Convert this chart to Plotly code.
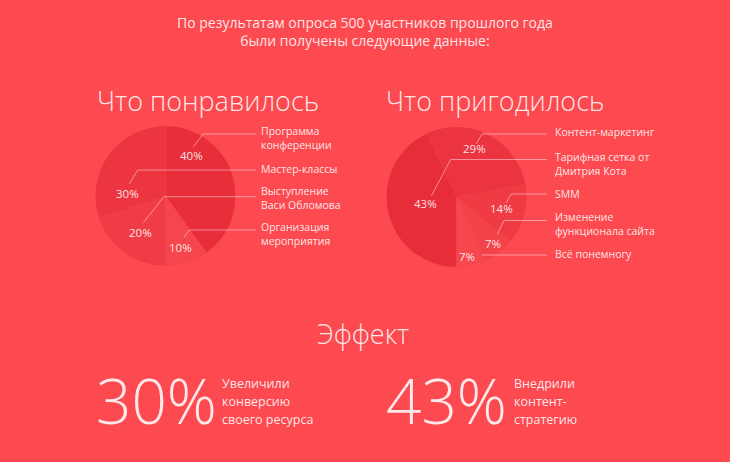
import plotly.graph_objects as go

# ---------------- data ----------------
header_lines = ["По результатам опроса 500 участников прошлого года",
                "были получены следующие данные:"]

liked_title = "Что понравилось"
liked_labels = ["Программа\nконференции", "Мастер-классы",
                "Выступление\nВаси Обломова", "Организация\nмероприятия"]
liked_values = [40, 30, 20, 10]

useful_title = "Что пригодилось"
useful_labels = ["Контент-маркетинг", "Тарифная сетка от\nДмитрия Кота", "SMM",
                 "Изменение\nфункционала сайта", "Всё понемногу"]
useful_values = [29, 43, 14, 7, 7]
useful_slice_order = [1, 0, 2, 3, 4]   # drawing order clockwise from 6 o'clock

effect_title = "Эффект"
effect_values = [30, 43]
effect_texts = ["Увеличили\nконверсию\nсвоего ресурса", "Внедрили\nконтент-\nстратегию"]

# ---------------- styles ----------------
W, H = 730, 462
BG = "#FD4A50"
FONT = "Open Sans"
TXT = "rgba(255,255,255,0.88)"
LINE = "rgba(255,255,255,0.45)"
liked_colors = ["#E82E3A", "#EC3540", "#F03C46", "#F6454D"]
useful_colors = ["#EC3440", "#E72D39", "#F03B45", "#F3424A", "#F7474E"]


def px(x):
    return x / W


def py(y):
    return 1 - y / H


def dom(cx, cy, r):
    return dict(x=[px(cx - r), px(cx + r)], y=[py(cy + r), py(cy - r)])


fig = go.Figure()

fig.add_trace(go.Pie(
    values=liked_values, labels=[l.replace("\n", " ") for l in liked_labels],
    marker=dict(colors=liked_colors, line=dict(width=0)),
    sort=False, direction="counterclockwise", rotation=0,
    textinfo="none", hoverinfo="label+percent", showlegend=False,
    domain=dom(165.5, 196, 70)))

fig.add_trace(go.Pie(
    values=[useful_values[i] for i in useful_slice_order],
    labels=[useful_labels[i].replace("\n", " ") for i in useful_slice_order],
    marker=dict(colors=[useful_colors[i] for i in useful_slice_order], line=dict(width=0)),
    sort=False, direction="clockwise", rotation=180,
    textinfo="none", hoverinfo="label+percent", showlegend=False,
    domain=dom(456.5, 197, 70)))

ann = []
shapes = []


def text(x, y, s, size, anchor="left", weight=400, color=TXT):
    ann.append(dict(x=px(x), y=py(y), xref="paper", yref="paper",
                    text=s.replace("\n", "<br>"), align=anchor,
                    showarrow=False, xanchor=anchor, yanchor="middle",
                    font=dict(family=FONT, size=size, color=color, weight=weight)))


def lines(x, y0, s, size, step, anchor="left", weight=400):
    for k, part in enumerate(s.split("\n")):
        text(x, y0 + k * step, part, size, anchor, weight)


def leader(pts):
    path = "M " + " L ".join(f"{px(a)},{py(b)}" for a, b in pts)
    shapes.append(dict(type="path", xref="paper", yref="paper", path=path,
                       line=dict(color=LINE, width=1)))


# header
text(365, 31, "\n".join(header_lines), 14, anchor="center")

# titles
text(95, 100, liked_title, 27, weight=300)
text(384, 100, useful_title, 27, weight=300)

# left pie: percent labels, leader lines, legend text (block centres)
liked_pct_pos = [(191.7, 155), (127.3, 193.3), (140.7, 232.3), (180.7, 247)]
liked_leaders = [[(193.3, 146.7), (203.3, 134), (255.7, 134)],
                 [(129.3, 184), (137.7, 170), (255.7, 170)],
                 [(143.3, 222.7), (164, 196.7), (255.7, 196.7)],
                 [(184, 237.3), (189.3, 230), (255.7, 230)]]
liked_text_y = [137.5, 169.3, 198.5, 233.5]
for v, (x, y), ld, ty, lab in zip(liked_values, liked_pct_pos, liked_leaders,
                                  liked_text_y, liked_labels):
    text(x, y, f"{v}%", 11.5, anchor="center")
    leader(ld)
    text(259, ty, lab, 10.5)

# right pie
useful_pct_pos = [(474.7, 148.3), (425.7, 203.3), (501.3, 208.7), (493, 243.3), (467.3, 256.7)]
useful_leaders = [[(476.3, 144), (482, 134), (547, 134)],
                  [(431.3, 196), (450.7, 159.5), (547, 159.5)],
                  [(506.3, 202.7), (511.3, 194), (547, 194)],
                  [(497.3, 234), (504, 220.5), (547, 220.5)],
                  [(482, 255), (547, 255)]]
useful_text_y = [132.3, 164, 194.3, 223.5, 254.3]
for v, (x, y), ld, ty, lab in zip(useful_values, useful_pct_pos, useful_leaders,
                                  useful_text_y, useful_labels):
    text(x, y, f"{v}%", 11.5, anchor="center")
    leader(ld)
    text(552.5, ty, lab, 10.5)

# effect section
text(363, 333, effect_title, 27, anchor="center", weight=300)
for v, xbig, xs, s in zip(effect_values, [94, 384], [220, 512], effect_texts):
    text(xbig, 400, f"{v}%", 62, weight=300)
    lines(xs, 383, s, 12.5, 18)

fig.update_layout(width=W, height=H, margin=dict(l=0, r=0, t=0, b=0),
                  paper_bgcolor=BG, plot_bgcolor=BG,
                  annotations=ann, shapes=shapes, showlegend=False)

fig.write_html("out.html")
